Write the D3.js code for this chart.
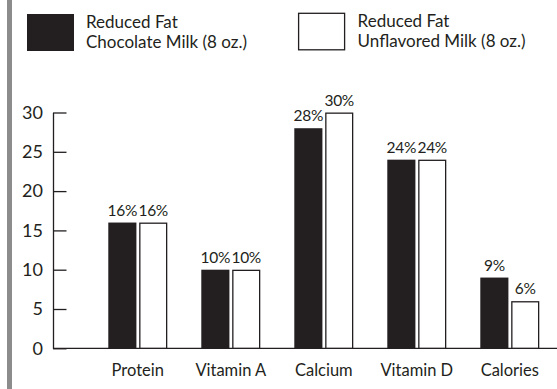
<!DOCTYPE html>
<html>
<head>
<meta charset="utf-8">
<script src="https://cdn.jsdelivr.net/npm/d3@7/dist/d3.min.js"></script>
<style>
  html, body { margin: 0; padding: 0; background: #fff; }
  svg { display: block; font-family: Lato, "Open Sans", sans-serif; }
</style>
</head>
<body>
<svg id="chart" width="557" height="389"></svg>
<script>
// Nutrient categories (percent daily value per 8 oz. serving)
const categories = ["Protein", "Vitamin A", "Calcium", "Vitamin D", "Calories"];
const chocolateValues = [16, 10, 28, 24, 9];
const unflavoredValues = [16, 10, 30, 24, 6];
const seriesNames = ["Reduced Fat\nChocolate Milk (8 oz.)", "Reduced Fat\nUnflavored Milk (8 oz.)"];
const yTicks = [0, 5, 10, 15, 20, 25, 30];

const ink = "#231f20";
const svg = d3.select("#chart");

// left accent rule
svg.append("rect").attr("x", 7).attr("y", 0).attr("width", 5).attr("height", 389).attr("fill", "#8c8c8c");

const y = d3.scaleLinear().domain([0, 30]).range([348.3, 112.5]);
const x0 = d3.scaleBand().domain(categories).range([91.3, 556.3]).padding(0);
const groupWidth = 59;
const x1 = d3.scaleBand().domain([0, 1]).range([0, groupWidth]).paddingInner(0.09);

// y axis with inward ticks
const yAxis = d3.axisLeft(y).tickValues(yTicks).tickSizeInner(-13.5).tickSizeOuter(0).tickPadding(10);
const gy = svg.append("g").attr("transform", "translate(53,0)").call(yAxis);
gy.select(".domain").attr("stroke", ink).attr("stroke-width", 1.3);
gy.selectAll(".tick line").attr("stroke", ink).attr("stroke-width", 1.3);
gy.selectAll(".tick text").attr("fill", ink).attr("font-size", 18).attr("font-family", "Lato, sans-serif");

// baseline
svg.append("line").attr("x1", 53).attr("x2", 557).attr("y1", y(0)).attr("y2", y(0))
  .attr("stroke", ink).attr("stroke-width", 1.3);

const rows = categories.map((c, i) => ({ c, vals: [chocolateValues[i], unflavoredValues[i]] }));

const groups = svg.append("g").selectAll("g").data(rows).join("g")
  .attr("transform", d => `translate(${x0(d.c) + x0.bandwidth() / 2 - groupWidth / 2},0)`);

groups.selectAll("rect").data(d => d.vals.map((v, s) => ({ v, s }))).join("rect")
  .attr("x", d => x1(d.s) + (d.s === 1 ? 0.65 : 0))
  .attr("width", d => x1.bandwidth() - (d.s === 1 ? 1.3 : 0))
  .attr("y", d => y(d.v) + (d.s === 1 ? 0.65 : 0))
  .attr("height", d => y(0) - y(d.v) - (d.s === 1 ? 0.65 : 0))
  .attr("fill", d => d.s === 0 ? ink : "#fff")
  .attr("stroke", d => d.s === 1 ? ink : "none")
  .attr("stroke-width", 1.3);

groups.selectAll("text.val").data(d => d.vals.map((v, s) => ({ v, s }))).join("text")
  .attr("class", "val")
  .attr("x", d => x1(d.s) + x1.bandwidth() / 2)
  .attr("y", d => y(d.v) - 7)
  .attr("text-anchor", "middle")
  .attr("font-size", 15.5)
  .attr("letter-spacing", -0.3)
  .attr("fill", ink)
  .text(d => d.v + "%");

// category labels
svg.append("g").selectAll("text").data(categories).join("text")
  .attr("x", d => x0(d) + x0.bandwidth() / 2)
  .attr("y", 376)
  .attr("text-anchor", "middle")
  .attr("font-size", 16.5)
  .attr("fill", ink)
  .text(d => d);

// legend
const legend = [
  { name: seriesNames[0], x: 27, y: 14, fill: ink, stroke: "none" },
  { name: seriesNames[1], x: 298.6, y: 13.3, fill: "#fff", stroke: ink }
];
const lg = svg.append("g").selectAll("g").data(legend).join("g")
  .attr("transform", d => `translate(${d.x},${d.y})`);
lg.append("rect").attr("width", d => d.stroke === "none" ? 47 : 46).attr("height", d => d.stroke === "none" ? 37 : 36.5)
  .attr("fill", d => d.fill).attr("stroke", d => d.stroke).attr("stroke-width", 1.3);
lg.append("text").attr("x", 59).attr("y", 13.5).attr("font-size", 17).attr("fill", ink)
  .selectAll("tspan").data(d => d.name.split("\n")).join("tspan")
  .attr("x", 59).attr("dy", (d, i) => i === 0 ? 0 : 20).text(d => d);
</script>
</body>
</html>
